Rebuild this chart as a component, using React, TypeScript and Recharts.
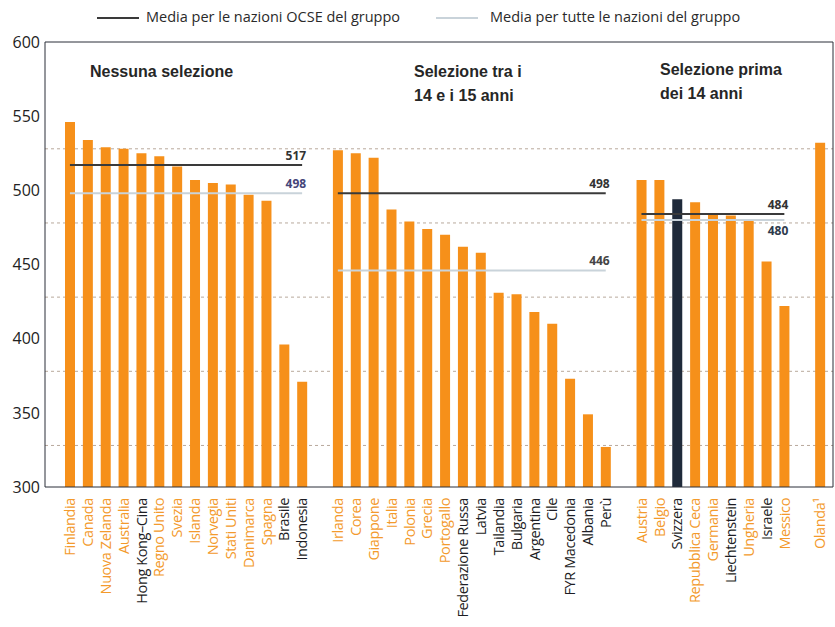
import { Bar, BarChart, CartesianGrid, Cell, ReferenceLine, XAxis, YAxis } from "recharts";

// PISA reading scores by tracking age
const noTracking = [
  "Finlandia", "Canada", "Nuova Zelanda", "Australia", "Hong Kong–Cina", "Regno Unito", "Svezia",
  "Islanda", "Norvegia", "Stati Uniti", "Danimarca", "Spagna", "Brasile", "Indonesia",
];
const noTrackingScores = [546, 534, 529, 528, 525, 523, 516, 507, 505, 504, 497, 493, 396, 371];

const tracking1415 = [
  "Irlanda", "Corea", "Giappone", "Italia", "Polonia", "Grecia", "Portogallo", "Federazione Russa",
  "Latvia", "Tailandia", "Bulgaria", "Argentina", "Cile", "FYR Macedonia", "Albania", "Perù",
];
const tracking1415Scores = [527, 525, 522, 487, 479, 474, 470, 462, 458, 431, 430, 418, 410, 373, 349, 327];

const trackingBefore14 = [
  "Austria", "Belgio", "Svizzera", "Repubblica Ceca", "Germania", "Liechtenstein", "Ungheria", "Israele", "Messico",
];
const trackingBefore14Scores = [507, 507, 494, 492, 484, 483, 480, 452, 422];

const other = ["Olanda¹"];
const otherScores = [532];

// group means: [OECD, all countries]
const noTrackingMeans = [517, 498];
const tracking1415Means = [498, 446];
const trackingBefore14Means = [484, 480];

const nonOecd = [
  "Hong Kong–Cina", "Brasile", "Indonesia", "Federazione Russa", "Latvia", "Tailandia", "Bulgaria",
  "Argentina", "Cile", "FYR Macedonia", "Albania", "Perù", "Svizzera", "Liechtenstein", "Israele",
];
const highlighted = "Svizzera";

const yTicks = [300, 350, 400, 450, 500, 550, 600];
const gridValues = [328, 378, 428, 478, 528];

const ORANGE = "#f6901a";
const LABEL_ORANGE = "#f39a2c";
const DARK = "#1f2a3a";
const OECD_LINE = "#3a3a3a";
const ALL_LINE = "#c9d3da";

const toRows = (names: string[], scores: number[]) =>
  names.map((country, i) => ({ country, score: scores[i] }));

const data = [
  ...toRows(noTracking, noTrackingScores),
  { country: "_gap1", score: null },
  ...toRows(tracking1415, tracking1415Scores),
  { country: "_gap2", score: null },
  ...toRows(trackingBefore14, trackingBefore14Scores),
  { country: "_gap3", score: null },
  ...toRows(other, otherScores),
];

const FONT = "'Open Sans', 'DejaVu Sans', sans-serif";

function CountryTick(props: any) {
  const { x, y, payload } = props;
  const name: string = payload.value;
  if (name.startsWith("_")) return null;
  const color = nonOecd.includes(name) ? "#1d1d24" : LABEL_ORANGE;
  return (
    <g transform={`translate(${x},${y})`}>
      <text
        x={-3}
        y={0}
        dy="0.36em"
        transform="rotate(-90)"
        textAnchor="end"
        fill={color}
        fontSize={14.5}
        letterSpacing={-0.4}
        fontFamily={FONT}
      >
        {name}
      </text>
    </g>
  );
}

function MeanTag(props: any) {
  const { viewBox, text, below, color } = props;
  if (!viewBox) return null;
  const x = viewBox.x + viewBox.width + 4;
  const y = below ? viewBox.y + 15 : viewBox.y - 5;
  return (
    <text x={x} y={y} textAnchor="end" fill={color} fontSize={12} fontWeight={700} fontFamily={FONT}>
      {text}
    </text>
  );
}

function meanLine(from: string, to: string, value: number, stroke: string, width: number, tagColor: string, below = false) {
  return (
    <ReferenceLine
      key={`${from}-${value}-${stroke}`}
      segment={[
        { x: from, y: value },
        { x: to, y: value },
      ]}
      stroke={stroke}
      strokeWidth={width}
      ifOverflow="visible"
      label={<MeanTag text={String(value)} below={below} color={tagColor} />}
    />
  );
}

const heading: React.CSSProperties = {
  position: "absolute",
  fontFamily: "'Liberation Sans', Arial, sans-serif",
  fontWeight: 700,
  fontSize: 16,
  color: "#262626",
  lineHeight: "24px",
};

const legendText: React.CSSProperties = {
  position: "absolute",
  top: 7,
  fontFamily: FONT,
  fontSize: 14.5,
  color: "#2a2a2a",
};

export default function App() {
  return (
    <div style={{ position: "relative", width: 835, height: 627, background: "#fff", overflow: "hidden" }}>
      <style>{"body{margin:0}"}</style>
      <div style={{ position: "absolute", left: 97, top: 17, width: 42, height: 2, background: OECD_LINE }} />
      <div style={{ ...legendText, left: 146 }}>Media per le nazioni OCSE del gruppo</div>
      <div style={{ position: "absolute", left: 436, top: 17, width: 42, height: 2, background: ALL_LINE }} />
      <div style={{ ...legendText, left: 490 }}>Media per tutte le nazioni del gruppo</div>

      <BarChart width={835} height={627} data={data} margin={{ top: 42, right: 0, bottom: 0, left: 0 }}>
        <CartesianGrid
          vertical={false}
          horizontalValues={gridValues}
          stroke="#b8a99c"
          strokeDasharray="3 3"
        />
        <XAxis
          dataKey="country"
          interval={0}
          height={140}
          tickLine={false}
          axisLine={{ stroke: "#2b2f38" }}
          padding={{ left: 16, right: 4 }}
          tick={<CountryTick />}
        />
        <YAxis
          domain={[300, 600]}
          ticks={yTicks}
          width={45}
          tickLine={false}
          tickSize={3}
          tickMargin={2}
          axisLine={{ stroke: "#2b2f38" }}
          tick={{ fontSize: 16, fill: "#222", fontFamily: FONT }}
        />
        <YAxis
          yAxisId="frame"
          orientation="right"
          domain={[300, 600]}
          width={2}
          tick={false}
          tickLine={false}
          axisLine={{ stroke: "#2b2f38" }}
        />
        <ReferenceLine y={600} stroke="#2b2f38" />
        <Bar dataKey="score" barSize={10} isAnimationActive={false}>
          {data.map((d) => (
            <Cell key={d.country} fill={d.country === highlighted ? DARK : ORANGE} />
          ))}
        </Bar>
        {meanLine(noTracking[0], noTracking[noTracking.length - 1], noTrackingMeans[1], ALL_LINE, 2, "#45457a")}
        {meanLine(noTracking[0], noTracking[noTracking.length - 1], noTrackingMeans[0], OECD_LINE, 2, "#333")}
        {meanLine(tracking1415[0], tracking1415[tracking1415.length - 1], tracking1415Means[1], ALL_LINE, 2, "#444")}
        {meanLine(tracking1415[0], tracking1415[tracking1415.length - 1], tracking1415Means[0], OECD_LINE, 2, "#333")}
        {meanLine(trackingBefore14[0], trackingBefore14[trackingBefore14.length - 1], trackingBefore14Means[1], ALL_LINE, 2, "#2e3a4c", true)}
        {meanLine(trackingBefore14[0], trackingBefore14[trackingBefore14.length - 1], trackingBefore14Means[0], OECD_LINE, 2, "#333")}
      </BarChart>

      <div style={{ ...heading, left: 90, top: 60 }}>Nessuna selezione</div>
      <div style={{ ...heading, left: 414, top: 60 }}>
        Selezione tra i
        <br />
        14 e i 15 anni
      </div>
      <div style={{ ...heading, left: 660, top: 58 }}>
        Selezione prima
        <br />
        dei 14 anni
      </div>
    </div>
  );
}
